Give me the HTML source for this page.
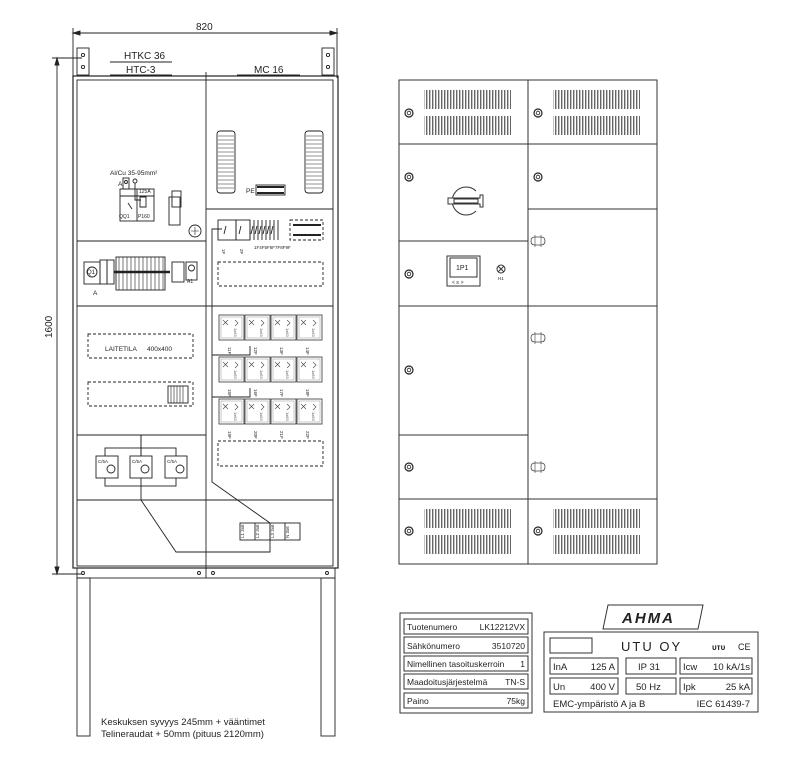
<!DOCTYPE html>
<html><head><meta charset="utf-8"><style>
html,body{margin:0;padding:0;background:#fff;}
svg{display:block;font-family:"Liberation Sans",sans-serif;}
</style></head><body>
<svg width="800" height="774" viewBox="0 0 800 774" xmlns="http://www.w3.org/2000/svg">
<defs>
<pattern id="vent" width="3" height="10" patternUnits="userSpaceOnUse"><rect width="1.4" height="10" fill="#666"/></pattern>
<g id="fuse"><rect x="0" y="0" width="25" height="25" fill="none" stroke="#333" stroke-width="0.8"/><rect x="2" y="2" width="21" height="21" fill="none" stroke="#777" stroke-width="0.4"/><path d="M4 5 l5 5 M9 5 l-5 5" stroke="#444" stroke-width="0.6"/><path d="M16 5 l3 3 l-3 3" fill="none" stroke="#444" stroke-width="0.6"/><text x="15" y="13" font-size="4" fill="#555" stroke="none" transform="rotate(90 15 13)">1x63</text></g>
<g id="screw"><circle r="4" fill="none" stroke="#222" stroke-width="1.2"/><circle r="1.8" fill="none" stroke="#222" stroke-width="0.8"/></g>
<g id="hinge"><path d="M-7 0 q0 -4 4 -4 h6 q4 0 4 4 q0 4 -4 4 h-6 q-4 0 -4 -4z" fill="none" stroke="#444" stroke-width="0.8"/><path d="M-3 -6 v12 M3 -6 v12" stroke="#444" stroke-width="0.6"/></g>
</defs>
<g fill="none" stroke="#222" stroke-width="0.9">
<line x1="73" y1="33" x2="337" y2="33"/>
<line x1="73" y1="28" x2="73" y2="78"/><line x1="337" y1="28" x2="337" y2="78"/>
<path d="M73 33 l7 -2 v4z M337 33 l-7 -2 v4z" fill="#222"/>
<line x1="57" y1="58" x2="57" y2="574"/>
<line x1="52" y1="58" x2="82" y2="58"/><line x1="52" y1="574" x2="82" y2="574"/>
<path d="M57 58 l-2 7 h4z M57 574 l-2 -7 h4z" fill="#222"/>
<rect x="77" y="48" width="12" height="27"/><rect x="322" y="48" width="12" height="27"/>
<circle cx="83" cy="55" r="1.6"/><circle cx="83" cy="67" r="1.6"/><circle cx="328" cy="55" r="1.6"/><circle cx="328" cy="67" r="1.6"/>
<line x1="110" y1="62" x2="172" y2="62"/><line x1="110" y1="75" x2="172" y2="75"/><line x1="237" y1="75" x2="300" y2="75"/>
<rect x="73" y="76" width="265" height="492" stroke-width="1.2"/>
<rect x="77" y="80" width="256" height="486"/>
<line x1="206" y1="72" x2="206" y2="578"/>
<line x1="77" y1="241" x2="206" y2="241"/><line x1="77" y1="306" x2="333" y2="306"/>
<line x1="77" y1="435" x2="206" y2="435"/><line x1="77" y1="500" x2="333" y2="500"/>
<line x1="206" y1="209" x2="333" y2="209"/>
<rect x="77" y="568" width="258" height="10"/>
<circle cx="83" cy="573" r="1.5"/><circle cx="199" cy="573" r="1.5"/><circle cx="213" cy="573" r="1.5"/><circle cx="327" cy="573" r="1.5"/>
<rect x="77" y="578" width="13" height="158"/><rect x="321" y="578" width="14" height="158"/>
<rect x="217" y="131" width="18" height="62" rx="3"/><rect x="305" y="131" width="18" height="62" rx="3"/>
<g stroke-width="0.5"><path d="M218 136h16M218 140h16M218 144h16M218 148h16M218 152h16M218 156h16M218 160h16M218 164h16M218 168h16M218 172h16M218 176h16M218 180h16M218 184h16M218 188h16"/>
<path d="M306 136h16M306 140h16M306 144h16M306 148h16M306 152h16M306 156h16M306 160h16M306 164h16M306 168h16M306 172h16M306 176h16M306 180h16M306 184h16M306 188h16"/></g>
<rect x="256" y="185" width="29" height="10"/><path d="M257 187h27M257 193h27" stroke-width="2"/>
<rect x="218" y="220" width="18" height="20"/><rect x="236" y="220" width="14" height="20"/>
<path d="M250 220v20M254 220v20M258 220v20M262 220v20M266 220v20M270 220v20M274 220v20M278 220v20"/>
<path d="M226 226l-2 8M241 226l-2 8M253 226l-2 8M257 226l-2 8M261 226l-2 8M265 226l-2 8M269 226l-2 8M273 226l-2 8"/>
<rect x="290" y="220" width="33" height="20" stroke-dasharray="3 2"/>
<path d="M293 225h28M293 235h28" stroke-width="2"/>
<rect x="218" y="262" width="105" height="24" stroke-dasharray="3 2"/>
<path d="M222 229h-10v253l58 41"/>
<path d="M141 435v65l35 52h94v-29"/>
<path d="M212 355h38v-9M212 397h38v-9"/>
<g stroke-width="0.6" fill="none">
<use href="#fuse" x="219" y="315"/><use href="#fuse" x="245" y="315"/><use href="#fuse" x="271" y="315"/><use href="#fuse" x="297" y="315"/>
<use href="#fuse" x="219" y="357"/><use href="#fuse" x="245" y="357"/><use href="#fuse" x="271" y="357"/><use href="#fuse" x="297" y="357"/>
<use href="#fuse" x="219" y="399"/><use href="#fuse" x="245" y="399"/><use href="#fuse" x="271" y="399"/><use href="#fuse" x="297" y="399"/>
</g>
<rect x="218" y="441" width="105" height="25" stroke-dasharray="3 2"/>
<rect x="88" y="334" width="105" height="24" stroke-dasharray="3 2"/>
<rect x="88" y="382" width="105" height="24" stroke-dasharray="3 2"/>
<rect x="168" y="386" width="20" height="17"/><path d="M171 386v17M174 386v17M177 386v17M180 386v17M183 386v17" stroke-width="0.6"/>
<rect x="120" y="189" width="34" height="32"/><line x1="137" y1="189" x2="137" y2="221"/><line x1="120" y1="196" x2="154" y2="196"/>
<rect x="123" y="178" width="6" height="11"/><circle cx="126" cy="182" r="1.5"/><circle cx="135" cy="181" r="2"/>
<path d="M135 183v17h6M140 197h6v10h-6z M128 203l4 6"/>
<rect x="169" y="197" width="11" height="28"/><rect x="172" y="191" width="9" height="16"/>
<circle cx="195" cy="231" r="6"/><path d="M191 231h8M195 227v8" stroke-width="0.6"/>
<rect x="84" y="262" width="16" height="22"/><circle cx="92" cy="272" r="5"/>
<rect x="100" y="260" width="7" height="24"/><rect x="107" y="260" width="7" height="24"/>
<rect x="116" y="257" width="49" height="33"/>
<path d="M119 257v33M123 257v33M127 257v33M131 257v33M135 257v33M139 257v33M143 257v33M147 257v33M151 257v33M155 257v33M159 257v33M163 257v33" stroke-width="0.6"/>
<path d="M114 272h56" stroke-width="2.5"/>
<rect x="172" y="262" width="12" height="20"/><rect x="186" y="262" width="11" height="18"/><circle cx="191.5" cy="268" r="3"/>
<rect x="105" y="448" width="71" height="38"/>
<rect x="96" y="456" width="22" height="22" fill="#fff"/><rect x="130" y="456" width="22" height="22" fill="#fff"/><rect x="165" y="456" width="22" height="22" fill="#fff"/>
<circle cx="111" cy="469" r="4"/><circle cx="145" cy="469" r="4"/><circle cx="180" cy="469" r="4"/>
<line x1="141" y1="435" x2="141" y2="456"/>
<rect x="240" y="523" width="60" height="17"/><path d="M255 523v17M270 523v17M285 523v17"/>
</g>
<g font-size="10" fill="#222">
<text x="196" y="30">820</text>
<text x="124" y="59">HTKC 36</text><text x="126" y="73">HTC-3</text><text x="254" y="73">MC 16</text>
<text x="52" y="338" transform="rotate(-90 52 338)">1600</text>
</g>
<g font-size="6.5" fill="#222">
<text x="110" y="175">Al/Cu 35-95mm²</text><text x="118" y="186">A</text>
<text x="119" y="218" font-size="5">QQ1</text><text x="138" y="218" font-size="5">P160</text><text x="139" y="193" font-size="5">125A</text>
<text x="246" y="193">PE</text>
<text x="87" y="274" font-size="6">Q1</text><text x="93" y="295">A</text><text x="187" y="283" font-size="5">A1</text>
<text x="105" y="351">LAITETILA</text><text x="147" y="351">400x400</text>
</g>
<g font-size="4.5" fill="#222">
<text x="222" y="249" transform="rotate(90 222 249)">1F</text><text x="240" y="249" transform="rotate(90 240 249)">2F</text>
<text x="254" y="249">1F4F5F6F7F8F9F</text>
<text x="228" y="347" transform="rotate(90 228 347)">11F</text><text x="254" y="347" transform="rotate(90 254 347)">12F</text><text x="280" y="347" transform="rotate(90 280 347)">13F</text><text x="306" y="347" transform="rotate(90 306 347)">14F</text>
<text x="228" y="389" transform="rotate(90 228 389)">15F</text><text x="254" y="389" transform="rotate(90 254 389)">16F</text><text x="280" y="389" transform="rotate(90 280 389)">17F</text><text x="306" y="389" transform="rotate(90 306 389)">18F</text>
<text x="228" y="431" transform="rotate(90 228 431)">19F</text><text x="254" y="431" transform="rotate(90 254 431)">20F</text><text x="280" y="431" transform="rotate(90 280 431)">21F</text><text x="306" y="431" transform="rotate(90 306 431)">22F</text>
<text x="98" y="463">C/5A</text><text x="132" y="463">C/5A</text><text x="167" y="463">C/5A</text>
<text x="244" y="538" transform="rotate(-90 244 538)">L1 3x6</text><text x="259" y="538" transform="rotate(-90 259 538)">L2 3x6</text><text x="274" y="538" transform="rotate(-90 274 538)">L3 3x6</text><text x="289" y="538" transform="rotate(-90 289 538)">N 3x6</text>
</g>
<g font-size="9.5" fill="#222">
<text x="101" y="725">Keskuksen syvyys 245mm + vääntimet</text>
<text x="101" y="737">Telineraudat + 50mm (pituus 2120mm)</text>
</g>
<g fill="none" stroke="#333" stroke-width="1">
<rect x="399" y="80" width="258" height="484"/>
<line x1="528" y1="80" x2="528" y2="564"/>
<line x1="399" y1="144" x2="657" y2="144"/><line x1="528" y1="209" x2="657" y2="209"/>
<line x1="399" y1="241" x2="528" y2="241"/><line x1="399" y1="306" x2="657" y2="306"/>
<line x1="399" y1="435" x2="528" y2="435"/><line x1="399" y1="499" x2="657" y2="499"/>
</g>
<g>
<rect x="424" y="90" width="87" height="19" fill="url(#vent)"/><rect x="424" y="116" width="87" height="19" fill="url(#vent)"/>
<rect x="553" y="90" width="87" height="19" fill="url(#vent)"/><rect x="553" y="116" width="87" height="19" fill="url(#vent)"/>
<rect x="424" y="509" width="87" height="19" fill="url(#vent)"/><rect x="424" y="535" width="87" height="19" fill="url(#vent)"/>
<rect x="553" y="509" width="87" height="19" fill="url(#vent)"/><rect x="553" y="535" width="87" height="19" fill="url(#vent)"/>
</g>
<use href="#screw" x="409" y="113"/><use href="#screw" x="538" y="113"/><use href="#screw" x="409" y="177"/><use href="#screw" x="538" y="177"/>
<use href="#screw" x="409" y="274"/><use href="#screw" x="409" y="370"/><use href="#screw" x="409" y="467"/><use href="#screw" x="409" y="531"/><use href="#screw" x="538" y="531"/>
<use href="#hinge" x="538" y="241"/><use href="#hinge" x="538" y="338"/><use href="#hinge" x="538" y="467"/>
<g fill="none" stroke="#333" stroke-width="1">
<path d="M476 191 A14 14 0 1 0 476 211"/>
<path d="M448 198 h32 v-3 h3 v12 h-3 v-3 h-32 z" fill="#fff"/>
<rect x="454" y="199" width="24" height="4"/>
<rect x="447" y="256" width="33" height="30"/><rect x="450" y="258" width="27" height="19"/>
<circle cx="501" cy="269" r="4"/><path d="M498 266l6 6M504 266l-6 6"/>
</g>
<text x="456" y="270" font-size="7" fill="#222">1P1</text>
<text x="452" y="284" font-size="5" fill="#222">&lt;  ≡  &gt;</text>
<text x="498" y="280" font-size="4.5" fill="#222">H1</text>
<g fill="none" stroke="#333" stroke-width="1">
<rect x="400" y="613" width="132" height="100"/>
<rect x="404" y="619" width="124" height="15"/><rect x="404" y="637" width="124" height="16"/><rect x="404" y="656" width="124" height="15"/><rect x="404" y="674" width="124" height="15"/><rect x="404" y="693" width="124" height="15"/>
<path d="M608 605 h95 l-5 24 h-95z"/>
<rect x="544" y="632" width="214" height="80"/>
<rect x="550" y="638" width="42" height="15"/>
<rect x="550" y="658" width="68" height="16"/><rect x="626" y="658" width="50" height="16"/><rect x="680" y="658" width="72" height="16"/>
<rect x="550" y="678" width="68" height="16"/><rect x="626" y="678" width="50" height="16"/><rect x="680" y="678" width="72" height="16"/>
</g>
<g font-size="8.5" fill="#222">
<text x="407" y="630">Tuotenumero</text><text x="525" y="630" text-anchor="end">LK12212VX</text>
<text x="407" y="649">Sähkönumero</text><text x="525" y="649" text-anchor="end">3510720</text>
<text x="407" y="667">Nimellinen tasoituskerroin</text><text x="525" y="667" text-anchor="end">1</text>
<text x="407" y="685">Maadoitusjärjestelmä</text><text x="525" y="685" text-anchor="end">TN-S</text>
<text x="407" y="704">Paino</text><text x="525" y="704" text-anchor="end">75kg</text>
<text x="622" y="623" font-size="15" font-weight="bold" font-style="italic" letter-spacing="2">AHMA</text>
<text x="621" y="651" font-size="13" letter-spacing="2">UTU OY</text>
<text x="712" y="650" font-size="8" font-weight="bold">ᴜᴛᴜ</text><text x="738" y="650" font-size="9">CE</text>
<text x="553" y="670" font-size="9.5">InA</text><text x="615" y="670" font-size="9.5" text-anchor="end">125 A</text>
<text x="638" y="670" font-size="9.5">IP 31</text>
<text x="683" y="670" font-size="9.5">Icw</text><text x="750" y="670" font-size="9.5" text-anchor="end">10 kA/1s</text>
<text x="553" y="690" font-size="9.5">Un</text><text x="615" y="690" font-size="9.5" text-anchor="end">400 V</text>
<text x="636" y="690" font-size="9.5">50 Hz</text>
<text x="683" y="690" font-size="9.5">Ipk</text><text x="750" y="690" font-size="9.5" text-anchor="end">25 kA</text>
<text x="553" y="707" font-size="9.5">EMC-ympäristö  A  ja  B</text><text x="750" y="707" font-size="9.5" text-anchor="end">IEC 61439-7</text>
</g>
</svg>
</body></html>
